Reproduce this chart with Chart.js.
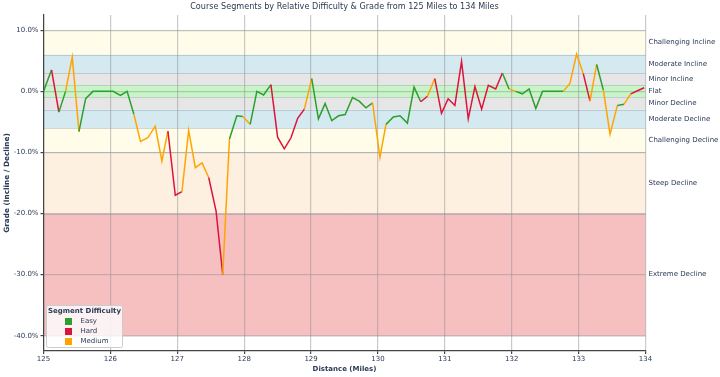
<!DOCTYPE html>
<html><head><meta charset="utf-8">
<script src="https://cdn.jsdelivr.net/npm/chart.js@4.4.1/dist/chart.umd.min.js"></script>
<style>html,body{margin:0;padding:0;background:#fff;overflow:hidden}#wrap{width:720px;height:377px;position:relative}</style>
</head><body><div id="wrap"><canvas id="c" width="720" height="377"></canvas></div>
<script>
const distance = [
125.00,125.12,125.23,125.33,125.43,125.53,125.63,125.74,125.84,125.94,
126.04,126.15,126.25,126.35,126.45,126.56,126.67,126.77,126.86,126.97,
127.07,127.17,127.27,127.37,127.47,127.58,127.68,127.78,127.89,127.98,
128.09,128.19,128.29,128.40,128.50,128.60,128.70,128.80,128.90,129.01,
129.11,129.21,129.31,129.41,129.51,129.62,129.72,129.82,129.92,130.03,
130.12,130.23,130.33,130.44,130.54,130.64,130.74,130.85,130.95,131.05,
131.15,131.25,131.35,131.45,131.55,131.65,131.76,131.86,131.96,132.06,
132.16,132.26,132.36,132.46,132.56,132.67,132.77,132.87,132.97,133.07,
133.17,133.27,133.37,133.47,133.58,133.68,133.78,133.88,133.98];
const grade = [
0,3.5,-3.4,0,5.6,-6.6,-1.2,0,0,0,
0,-0.65,0,-3.7,-8.2,-7.6,-5.7,-11.4,-6.5,-17.0,
-16.4,-6.4,-12.5,-11.7,-14.1,-19.6,-30.0,-7.8,-4.0,-4.1,
-5.4,0,-0.6,1.1,-7.5,-9.4,-7.6,-4.4,-2.9,2.1,
-4.5,-2.0,-4.8,-4.0,-3.8,-1.0,-1.6,-2.7,-1.9,-10.8,
-5.4,-4.2,-4.0,-5.2,0.7,-1.7,-0.8,2.1,-3.6,-1.2,
-2.3,4.9,-4.5,0.8,-2.9,1.0,0.4,3.0,0.4,0.0,
-0.4,0.4,-2.8,0,0,0,0,1.3,6.1,2.9,
-1.6,4.4,0.2,-7.0,-2.3,-2.1,-0.4,0.1,0.6];
// difficulty of the segment that starts at each point
const difficulty = [
'Easy','Hard','Easy','Medium','Medium','Easy','Easy','Easy','Easy','Easy',
'Easy','Easy','Easy','Medium','Medium','Medium','Medium','Medium','Hard','Hard',
'Medium','Medium','Medium','Medium','Hard','Hard','Medium','Easy','Easy','Medium',
'Easy','Easy','Easy','Hard','Hard','Hard','Hard','Hard','Medium','Easy',
'Easy','Easy','Easy','Easy','Easy','Easy','Easy','Easy','Medium','Medium',
'Easy','Easy','Easy','Easy','Easy','Hard','Medium','Hard','Hard','Hard',
'Hard','Hard','Hard','Hard','Hard','Hard','Hard','Easy','Medium','Easy',
'Easy','Easy','Easy','Easy','Easy','Easy','Medium','Medium','Medium','Hard',
'Medium','Easy','Medium','Medium','Easy','Medium','Hard','Hard','Hard'];
const legendLabels = ['Easy','Hard','Medium'];
const legendColors = ['#2ca02c','#dc143c','#ffa500'];
const bandNames = ['Challenging Incline','Moderate Incline','Minor Incline','Flat','Minor Decline','Moderate Decline','Challenging Decline','Steep Decline','Extreme Decline'];
const bandLow  = [6,3,1,-1,-3,-6,-10,-20,-40];
const bandHigh = [10,6,3,1,-1,-3,-6,-10,-20];
const bandColors = ['#fffde9','#d4e9f0','#e6e6e6','#c8f5c8','#e6e6e6','#d4e9f0','#fffde9','#fdf0e0','#f6bfc0'];
const yTicks = [10,0,-10,-20,-30,-40];
const titleText = 'Course Segments by Relative Difficulty & Grade from 125 Miles to 134 Miles';

const FONT = "'DejaVu Sans', sans-serif";
const TXT = '#2b3a55';
const colorOf = d => legendColors[legendLabels.indexOf(d)];

const bandPlugin = {
  id: 'bands',
  beforeDraw(chart) {
    const {ctx, chartArea: a, scales: {y}} = chart;
    ctx.save();
    ctx.fillStyle = '#fff';
    ctx.fillRect(0, 0, chart.width, chart.height);
    for (let i = 0; i < bandNames.length; i++) {
      const t = y.getPixelForValue(bandHigh[i]), b = y.getPixelForValue(bandLow[i]);
      ctx.fillStyle = bandColors[i];
      ctx.fillRect(a.left, t, a.right - a.left, b - t);
    }
    ctx.strokeStyle = 'rgba(120,140,150,0.18)';
    ctx.lineWidth = 1;
    for (let i = 0; i < bandNames.length; i++) {
      [bandHigh[i], bandLow[i]].forEach(v => {
        const p = Math.round(y.getPixelForValue(v)) + 0.5;
        ctx.beginPath(); ctx.moveTo(a.left, p); ctx.lineTo(a.right, p); ctx.stroke();
      });
    }
    ctx.restore();
  },
  afterDraw(chart) {
    const {ctx, chartArea: a, scales: {y}} = chart;
    ctx.save();
    // title centred over the plot area
    ctx.font = '8.1px ' + FONT;
    ctx.fillStyle = TXT;
    ctx.textAlign = 'center';
    ctx.textBaseline = 'middle';
    ctx.fillText(titleText, (a.left + a.right) / 2, 7);
    // band labels
    ctx.font = '7px ' + FONT;
    ctx.textAlign = 'left';
    for (let i = 0; i < bandNames.length; i++) {
      ctx.fillText(bandNames[i], a.right + 3, y.getPixelForValue((bandLow[i] + bandHigh[i]) / 2));
    }
    // legend
    const lx = 46.5, ly = 305.5, lw = 76, lh = 42;
    ctx.beginPath();
    ctx.roundRect(lx, ly, lw, lh, 2);
    ctx.fillStyle = 'rgba(255,255,255,0.8)';
    ctx.fill();
    ctx.strokeStyle = '#cccccc';
    ctx.lineWidth = 1;
    ctx.stroke();
    ctx.fillStyle = TXT;
    ctx.font = 'bold 7px ' + FONT;
    ctx.textAlign = 'center';
    ctx.fillText('Segment Difficulty', lx + lw / 2, ly + 6);
    ctx.font = '7px ' + FONT;
    ctx.textAlign = 'left';
    legendLabels.forEach((l, i) => {
      const cy = ly + 16 + i * 10;
      ctx.fillStyle = legendColors[i];
      ctx.fillRect(65, cy - 3.5, 7, 7);
      ctx.fillStyle = TXT;
      ctx.fillText(l, 80.5, cy);
    });
    ctx.restore();
  }
};

new Chart(document.getElementById('c'), {
  type: 'line',
  data: {
    datasets: [{
      label: 'Grade',
      data: distance.map((d, i) => ({x: d, y: grade[i]})),
      borderWidth: 1.5,
      pointRadius: 0,
      tension: 0,
      fill: false,
      borderColor: '#2ca02c',
      segment: { borderColor: c => colorOf(difficulty[c.p0DataIndex]) }
    }]
  },
  options: {
    responsive: false,
    animation: false,
    layout: { padding: { left: 0, right: 74.5, top: 15, bottom: 0 } },
    plugins: {
      legend: { display: false },
      tooltip: { enabled: false },
      title: { display: false }
    },
    scales: {
      x: {
        type: 'linear', min: 125, max: 134,
        ticks: { stepSize: 1, color: TXT, font: { family: FONT, size: 7 }, padding: 1, maxRotation: 0,
                 callback: v => String(v) },
        grid: { color: 'rgba(150,150,150,0.5)', lineWidth: 1.2, tickLength: 3, tickColor: '#444' },
        border: { color: '#444', width: 1.2 },
        title: { display: true, text: 'Distance (Miles)', color: TXT, font: { family: FONT, size: 7, weight: 'bold' }, padding: { top: 0, bottom: 4 } },
        afterFit: s => { s.height = 26; }
      },
      y: {
        type: 'linear', min: -42.5, max: 12.5,
        afterBuildTicks: s => { s.ticks = yTicks.map(v => ({value: v})); },
        ticks: { color: TXT, font: { family: FONT, size: 7 }, padding: 2, callback: v => v.toFixed(1) + '%' },
        grid: { color: 'rgba(150,150,150,0.5)', lineWidth: 1.2, tickLength: 3, tickColor: '#444' },
        border: { color: '#444', width: 1.2 },
        title: { display: true, text: 'Grade (Incline / Decline)', color: TXT, font: { family: FONT, size: 7.3, weight: 'bold' }, padding: { top: 3, bottom: 0 } },
        afterFit: s => { s.width = 43.5; }
      }
    }
  },
  plugins: [bandPlugin]
});
</script></body></html>
